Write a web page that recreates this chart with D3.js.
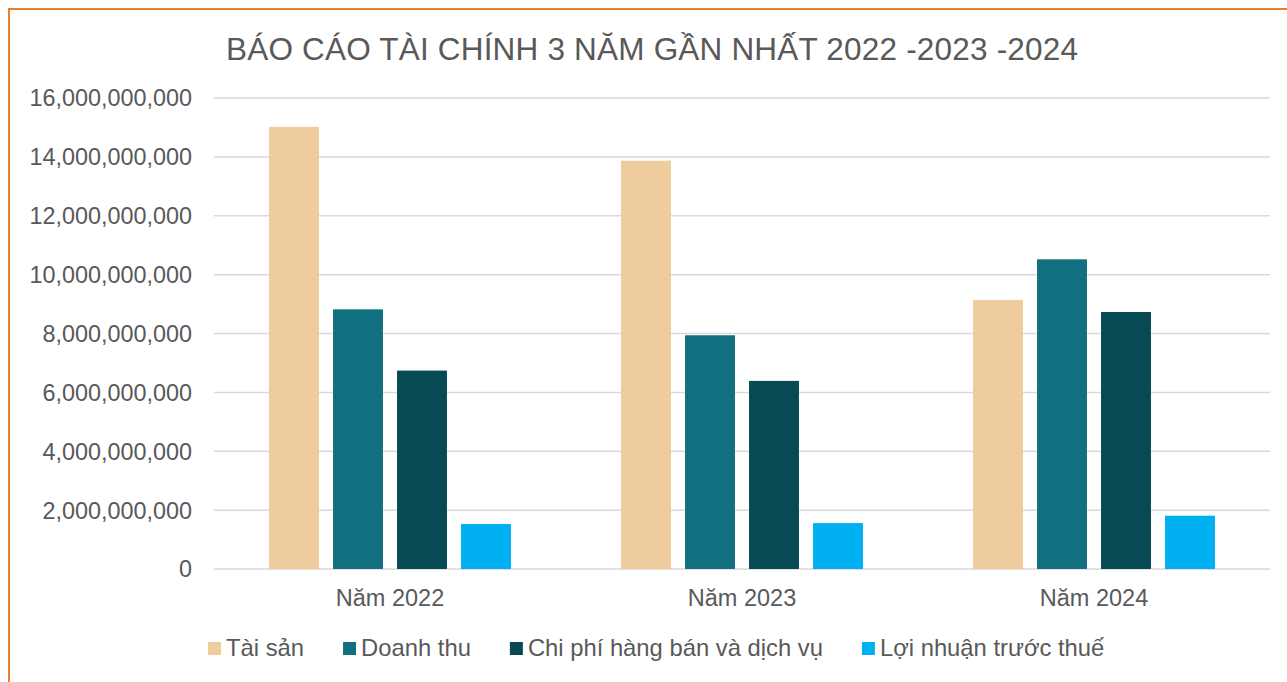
<!DOCTYPE html>
<html>
<head>
<meta charset="utf-8">
<script src="https://cdn.jsdelivr.net/npm/d3@7"></script>
<style>
  body { margin: 0; background: #fff; }
  text { font-family: "Liberation Sans", Arial, sans-serif; fill: #595959; }
</style>
</head>
<body>
<div id="chart"></div>
<script>
var years = ["Năm 2022", "Năm 2023", "Năm 2024"];
var seriesNames = ["Tài sản", "Doanh thu", "Chi phí hàng bán và dịch vụ", "Lợi nhuận trước thuế"];
var taiSan = [15020000000, 13870000000, 9140000000];
var doanhThu = [8820000000, 7940000000, 10520000000];
var chiPhi = [6740000000, 6390000000, 8730000000];
var loiNhuan = [1530000000, 1560000000, 1810000000];
var yTicks = [0, 2e9, 4e9, 6e9, 8e9, 10e9, 12e9, 14e9, 16e9];
var colors = ["#EECC9E", "#11707F", "#074A54", "#00B0F0"];

var seriesValues = [taiSan, doanhThu, chiPhi, loiNhuan];
var W = 1287, H = 682;

var svg = d3.select("#chart").append("svg")
    .attr("width", W)
    .attr("height", H);

// orange frame (only left/top visible in the crop)
svg.append("rect")
    .attr("x", 9).attr("y", 9)
    .attr("width", W + 20).attr("height", H + 20)
    .attr("fill", "none")
    .attr("stroke", "#ED7D31")
    .attr("stroke-width", 2);

svg.append("text")
    .attr("x", 226)
    .attr("y", 60)
    .attr("textLength", 852)
    .attr("lengthAdjust", "spacing")
    .style("font-size", "31.5px")
    .text("BÁO CÁO TÀI CHÍNH 3 NĂM GẦN NHẤT 2022 -2023 -2024");

var x0 = d3.scaleBand()
    .domain(years)
    .range([214, 1270]);

var x1 = d3.scaleBand()
    .domain(seriesNames)
    .range([0, x0.bandwidth()])
    .paddingInner(0.22)
    .paddingOuter(0.86);

var y = d3.scaleLinear()
    .domain([0, 16e9])
    .range([569, 98]);

// gridlines
svg.append("g")
    .selectAll("line")
    .data(yTicks)
    .join("line")
    .attr("x1", 214).attr("x2", 1270)
    .attr("y1", d => y(d)).attr("y2", d => y(d))
    .attr("stroke", "#D9D9D9")
    .attr("stroke-width", 1.5);

// y axis labels
svg.append("g")
    .selectAll("text")
    .data(yTicks)
    .join("text")
    .attr("x", 192)
    .attr("y", d => y(d))
    .attr("dy", "0.36em")
    .attr("text-anchor", "end")
    .style("font-size", "23.4px")
    .text(d => d3.format(",")(d));

// bars
var groups = svg.append("g")
    .selectAll("g")
    .data(years)
    .join("g")
    .attr("transform", d => "translate(" + x0(d) + ",0)");

groups.selectAll("rect")
    .data((d, i) => seriesNames.map((s, j) => ({name: s, value: seriesValues[j][i], color: colors[j]})))
    .join("rect")
    .attr("x", d => x1(d.name))
    .attr("width", x1.bandwidth())
    .attr("y", d => y(d.value))
    .attr("height", d => y(0) - y(d.value))
    .attr("fill", d => d.color);

// x labels
svg.append("g")
    .selectAll("text")
    .data(years)
    .join("text")
    .attr("x", d => x0(d) + x0.bandwidth() / 2)
    .attr("y", 606)
    .attr("text-anchor", "middle")
    .style("font-size", "23.5px")
    .text(d => d);

// legend
var legend = svg.append("g");
var lx = 208;
seriesNames.forEach(function(name, i){
    legend.append("rect")
        .attr("x", lx).attr("y", 642)
        .attr("width", 13).attr("height", 13)
        .attr("fill", colors[i]);
    var t = legend.append("text")
        .attr("x", lx + 18)
        .attr("y", 656)
        .style("font-size", "23.8px")
        .text(name);
    lx += 18 + t.node().getComputedTextLength() + 39;
});
</script>
</body>
</html>
